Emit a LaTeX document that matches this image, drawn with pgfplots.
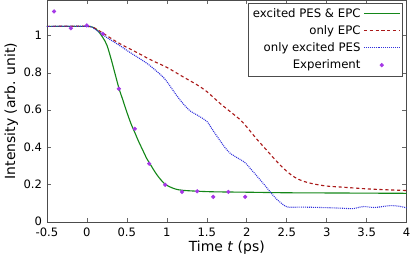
\documentclass[border=0pt]{standalone}
\usepackage{pgfplots}
\pgfplotsset{compat=1.18}
\usepackage{fontspec}
\setmainfont{DejaVu Sans}
\definecolor{cgreen}{RGB}{20,135,25}
\definecolor{cred}{RGB}{170,25,25}
\definecolor{cblue}{RGB}{50,50,220}
\definecolor{cpurp}{RGB}{165,55,230}
\pgfplotsset{markonlylegend/.style={legend image code/.code={\draw[##1] plot coordinates {(0.45cm,0.3pt)};}}}
\begin{document}
\begin{tikzpicture}
\begin{axis}[
  scale only axis,
  width=258pt, height=159pt,
  xmin=-0.5, xmax=4, ymin=0, ymax=1.19,
  xtick={-0.5,0,0.5,1,1.5,2,2.5,3,3.5,4},
  xticklabels={-0.5,0,0.5,1,1.5,2,2.5,3,3.5,4},
  ytick={0,0.2,0.4,0.6,0.8,1},
  yticklabels={0,0.2,0.4,0.6,0.8,1},
  tick align=inside,
  tick pos=both,
  major tick length=3pt,
  axis line style={black!70},
  every tick/.style={black!60},
  tick label style={font=\fontsize{8.3}{10}\selectfont},
  xticklabel style={yshift=-1pt},
  yticklabel style={yshift=0.5pt},
  label style={font=\fontsize{10}{12}\selectfont},
  xlabel={Time \textit{t} (ps)},
  ylabel={Intensity (arb. unit)},
  xlabel style={yshift=4pt},
  ylabel style={yshift=-3pt},
  /pgf/number format/assume math mode=true,
  legend plot pos=right,
  legend cell align=right,
  legend style={draw=black!70, font=\fontsize{8.4}{10}\selectfont, at={(1,1)}, anchor=north east, xshift=-3pt, yshift=-2pt, row sep=0.5pt, inner sep=1.5pt},
  legend image code/.code={\draw[#1] (0cm,0.3pt) -- (0.9cm,0.3pt);},
]
\addplot[color=cgreen, line width=0.8pt, smooth] coordinates {
(-0.5,1.05)(0,1.05)(0.05,1.048)(0.1,1.04)(0.15,1.02)(0.2,0.99)(0.25,0.95)(0.3,0.88)(0.35,0.80)(0.4,0.72)(0.45,0.655)(0.5,0.59)(0.55,0.53)(0.6,0.48)(0.65,0.43)(0.7,0.385)(0.75,0.34)(0.8,0.305)(0.85,0.27)(0.9,0.24)(0.95,0.215)(1.0,0.197)(1.1,0.178)(1.2,0.17)(1.4,0.165)(1.6,0.162)(2,0.16)(2.5,0.157)(3,0.156)(3.5,0.155)(4,0.154)};
\addlegendentry{excited PES \& EPC}
\addplot[color=cred, line width=0.8pt, dash pattern=on 2.3pt off 1.9pt, smooth] coordinates {
(-0.5,1.05)(0,1.05)(0.1,1.04)(0.25,1.0)(0.4,0.96)(0.625,0.91)(0.8,0.87)(1.0,0.83)(1.2,0.78)(1.375,0.737)(1.5,0.70)(1.67,0.635)(1.8,0.59)(1.92,0.548)(2.0,0.51)(2.125,0.445)(2.25,0.385)(2.375,0.325)(2.5,0.272)(2.6,0.24)(2.7,0.22)(2.83,0.205)(3.0,0.193)(3.2,0.187)(3.5,0.178)(3.75,0.173)(4,0.169)};
\addlegendentry{only EPC}
\addplot[color=cblue, line width=0.8pt, dash pattern=on 0.7pt off 0.7pt, smooth] coordinates {
(-0.5,1.05)(0,1.05)(0.1,1.035)(0.25,0.99)(0.4,0.95)(0.54,0.91)(0.65,0.88)(0.75,0.852)(0.83,0.825)(0.96,0.775)(1.04,0.73)(1.125,0.678)(1.21,0.632)(1.29,0.597)(1.375,0.575)(1.5,0.54)(1.58,0.49)(1.71,0.41)(1.79,0.37)(1.9,0.34)(1.98,0.318)(2.08,0.27)(2.21,0.205)(2.35,0.133)(2.45,0.095)(2.52,0.08)(2.7,0.08)(3.0,0.077)(3.2,0.074)(3.33,0.072)(3.46,0.083)(3.6,0.078)(3.79,0.088)(3.9,0.085)(4,0.076)};
\addlegendentry{only excited PES}
\addplot[only marks, mark=*, mark size=1.3pt, color=cpurp, markonlylegend] coordinates {
(-0.41,1.13)(-0.2,1.04)(0,1.055)(0.2,1.01)(0.4,0.715)(0.6,0.5)(0.78,0.313)(0.98,0.2)(1.19,0.162)(1.38,0.165)(1.58,0.135)(1.77,0.162)(1.98,0.135)};
\addlegendentry{Experiment}
\end{axis}
\end{tikzpicture}
\end{document}
